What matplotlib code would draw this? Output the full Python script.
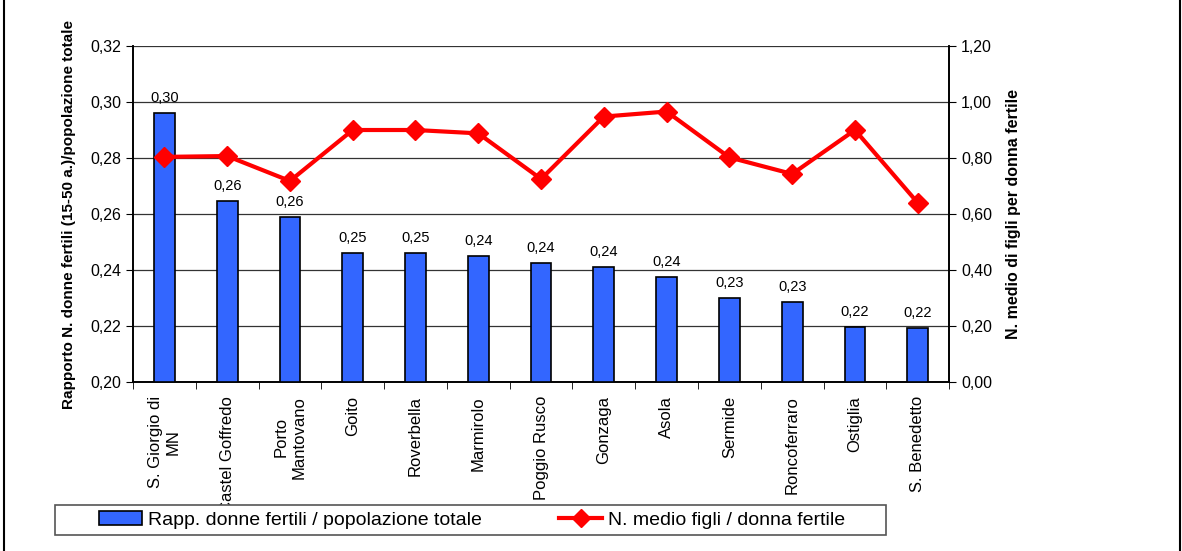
import numpy as np
import matplotlib
matplotlib.use("Agg")
import matplotlib.pyplot as plt
from matplotlib.lines import Line2D
from matplotlib.patches import Patch, Rectangle

plt.rcParams["font.family"] = ["Liberation Sans", "DejaVu Sans"]

comuni = ["S. Giorgio di\nMN", "Castel Goffredo", "Porto\nMantovano", "Goito",
          "Roverbella", "Marmirolo", "Poggio Rusco", "Gonzaga", "Asola",
          "Sermide", "Roncoferraro", "Ostiglia", "S. Benedetto"]
rapporto = [0.296, 0.2646, 0.259, 0.2462, 0.2462, 0.245, 0.2426, 0.2412,
            0.2376, 0.2299, 0.2286, 0.2196, 0.2193]
figli = [0.804, 0.807, 0.718, 0.900, 0.900, 0.888, 0.725, 0.948, 0.966,
         0.802, 0.743, 0.900, 0.640]

fig = plt.figure(figsize=(11.82, 5.51), dpi=100)
ax = fig.add_axes([0.1125, 0.3067, 0.6905, 0.6098])
ax2 = ax.twinx()

x = np.arange(len(comuni))
ax.bar(x, rapporto, width=0.33, color="#3366FF", edgecolor="black", linewidth=1.2, zorder=3)
for xi, v in zip(x, rapporto):
    ax.text(xi, v + 0.0028, f"{v:.2f}".replace(".", ","), ha="center", va="bottom", fontsize=10.5)

ax2.plot(x, figli, color="#FF0000", lw=3, marker="D", ms=10, zorder=4)

ax.set_xlim(-0.5, len(comuni) - 0.5)
ax.set_ylim(0.20, 0.32)
ax2.set_ylim(0, 1.2)
ax.set_yticks(np.arange(0.20, 0.321, 0.02))
ax2.set_yticks(np.arange(0, 1.21, 0.2))
ax.set_yticklabels([f"{t:.2f}".replace(".", ",") for t in ax.get_yticks()], fontsize=11.5)
ax2.set_yticklabels([f"{t:.2f}".replace(".", ",") for t in ax2.get_yticks()], fontsize=11.5)
ax.grid(axis="y", color="#333333", lw=0.9, zorder=0)

ax.set_xticks(x)
ax.set_xticklabels(comuni, rotation=90, fontsize=12, multialignment="center")
ax.tick_params(axis="x", length=0, pad=10)
ax.set_xticks(np.arange(-0.5, len(comuni), 1), minor=True)
ax.tick_params(axis="x", which="minor", length=5, direction="out")
ax.tick_params(axis="y", length=5, direction="out")
ax2.tick_params(axis="y", length=5, direction="out")

for a in (ax, ax2):
    for s in a.spines.values():
        s.set_linewidth(1.2)
ax.spines["top"].set_visible(False)
ax2.spines["top"].set_visible(False)

ax.set_ylabel("Rapporto N. donne fertili (15-50 a.)/popolazione totale", fontsize=11, fontweight="bold", labelpad=10)
ax2.set_ylabel("N. medio di figli per donna fertile", fontsize=11.5, fontweight="bold", labelpad=10)

# legend frame drawn separately
fig.patches.append(Rectangle((55 / 1182, 16 / 551), 831 / 1182, 30 / 551, transform=fig.transFigure,
                             facecolor="white", edgecolor="#555555", lw=1.2, zorder=5))
handles = [Patch(facecolor="#3366FF", edgecolor="black", linewidth=1.2),
           Line2D([], [], color="#FF0000", lw=3, marker="D", ms=9)]
leg = fig.legend(handles, ["Rapp. donne fertili / popolazione totale", "N. medio figli / donna fertile"],
                 loc="center left", bbox_to_anchor=(99 / 1182, 31 / 551), ncol=2, fontsize=14,
                 frameon=False, columnspacing=4.0, handlelength=2.2, handletextpad=0.3,
                 borderpad=0, borderaxespad=0)
leg.set_zorder(6)

# only left and right edges of the chart frame are visible
for xe in (0.003, 0.998):
    fig.add_artist(Line2D([xe, xe], [0, 1], transform=fig.transFigure, color="black", lw=1.5))

fig.savefig("out.png", dpi=100)
